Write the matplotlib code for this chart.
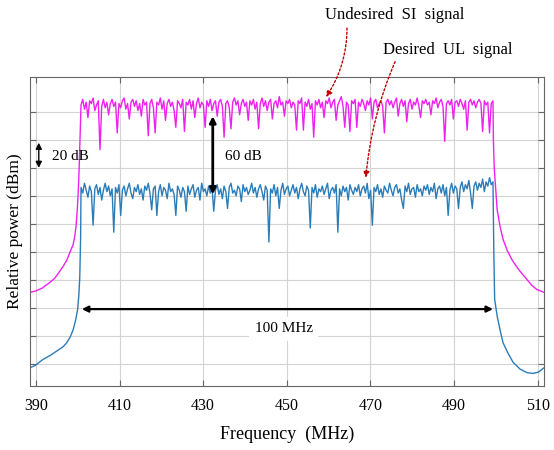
import numpy as np
import matplotlib
matplotlib.use("Agg")
import matplotlib.pyplot as plt

# in-band spectrum samples (dB)
band_f0, band_f1 = 400.8, 499.3

si_band = [
  5, 9, 2, 7, -4, 8, 6, 10, 1, 5, 8, -27, 4, 9, 3, 7, -2, 6, 9, 4,
  7, -15, 6, 3, 8, 10, 2, 6, -5, 7, 9, 4, 8, 1, 6, -3, 9, 5, 7, -17,
  6, 9, 3, -15, 7, 5, 10, 2, 8, -6, 6, 9, 4, 7, 1, -11, 8, 6, 3, 9,
  -14, 7, 5, 9, 2, 8, -4, 6, 10, 3, 7, 5, -11, 8, 4, 9, 1, 6, 8, -3,
  7, 9, 4, -18, 6, 8, 3, -12, 7, 10, 5, 8, -2, 6, 9, 4, 7, -6, 8, 5,
  9, 2, 7, -12, 6, 10, 4, 8, 1, 7, 9, -5, 6, 8, 3, 11, 5, 7, -3, 8,
  6, 9, 3, 7, 5, -13, 8, 6, 10, -13, 7, 4, 9, 2, 6, -18, 8, 5, 9, 3,
  7, -4, 8, 6, 10, 3, 7, 9, -6, 5, 8, 11, 4, -11, 7, 5, -14, 8, 6, 9,
  -11, 7, 4, 9, 6, 1, 8, 5, 10, -5, 7, 9, 3, 6, 8, 4, -15, 7, 9, 5,
  8, 3, 7, 10, -3, 6, 9, 4, 8, -7, 6, 9, 2, 7, 5, 10, 4, -4, 8, 6,
  9, 5, 7, -2, 8, 6, 10, 3, 7, 9, 4, -21, 6, 8, 5, 9, -5, 7, 8, 4,
  9, 6, 2, 8, -13, 7, 9, 5, 8, 3, 7, 9, 6, -14, 8, 5, 7, -15, 6, 8,
]

ul_band = [
  -54, -58, -51, -56, -61, -53, -57, -81, -55, -52, -59, -54, -63, -56, -51, -57, -53, -60, -55, -86,
  -54, -58, -52, -74, -56, -53, -60, -55, -51, -58, -62, -54, -57, -52, -59, -55, -63, -53, -56, -51,
  -58, -70, -55, -53, -74, -57, -52, -60, -54, -56, -62, -51, -57, -55, -59, -74, -53, -56, -61, -54,
  -57, -71, -53, -59, -55, -52, -61, -56, -54, -63, -51, -57, -55, -60, -53, -58, -54, -71, -56, -52,
  -59, -55, -62, -53, -57, -69, -54, -51, -58, -56, -60, -53, -55, -64, -52, -57, -54, -59, -56, -51,
  -58, -54, -61, -55, -52, -57, -63, -53, -56, -93, -55, -58, -52, -60, -54, -69, -56, -51, -59, -55,
  -53, -60, -56, -52, -58, -54, -62, -55, -51, -57, -60, -53, -56, -83, -54, -58, -52, -61, -55, -57,
  -53, -59, -55, -51, -62, -56, -54, -58, -52, -86, -55, -60, -53, -57, -54, -63, -52, -56, -59, -54,
  -57, -52, -60, -55, -53, -58, -51, -62, -56, -81, -54, -57, -52, -59, -55, -61, -53, -56, -58, -51,
  -56, -60, -54, -52, -58, -55, -63, -69, -53, -57, -51, -59, -55, -54, -61, -52, -57, -55, -60, -53,
  -56, -52, -59, -54, -57, -51, -62, -55, -53, -58, -52, -60, -54, -74, -56, -51, -58, -53, -55, -69,
  -54, -50, -57, -52, -55, -49, -58, -69, -53, -50, -56, -51, -54, -48, -57, -50, -53, -47, -52, -50,
]

# out-of-band skirts (MHz, dB)
si_left_f = [388.6, 390.0, 391.5, 393.3, 394.5, 395.7, 396.6, 397.4, 398.2, 398.9, 399.3, 399.6, 399.9, 400.1, 400.3, 400.5, 400.7]
si_left_db = [-129, -128, -126, -122, -119, -114, -110, -106, -100, -95, -89, -82, -70, -59, -45, -25, -5]
si_right_f = [499.4, 499.6, 500.3, 501.0, 501.7, 502.7, 503.9, 505.5, 507.2, 508.6, 509.8, 511.5]
si_right_db = [-20, -40, -70, -82, -91, -99, -106, -113, -119, -124, -127, -129]

ul_left_f = [388.6, 390.0, 391.7, 393.5, 395.0, 396.5, 397.4, 398.2, 398.9, 399.5, 400.0, 400.3, 400.5, 400.7]
ul_left_db = [-183, -181, -177, -174, -171, -168, -165, -161, -156, -149, -141, -130, -118, -90]
ul_right_f = [499.5, 499.7, 500.3, 501.0, 501.7, 502.8, 504.1, 505.8, 507.5, 508.9, 510.2, 511.5]
ul_right_db = [-100, -134, -146, -156, -165, -172, -179, -184, -186.5, -187, -186, -183]

xticks = [390, 410, 430, 450, 470, 490, 510]
yticks = [0, -20, -40, -60, -80, -100, -120, -140, -160, -180]

plt.rcParams['font.family'] = ['Liberation Serif', 'DejaVu Serif']

band_f = np.linspace(band_f0, band_f1, len(si_band))
si_f = np.concatenate([si_left_f, band_f, si_right_f])
si_db = np.concatenate([si_left_db, si_band, si_right_db])
ul_f = np.concatenate([ul_left_f, band_f, ul_right_f])
ul_db = np.concatenate([ul_left_db, ul_band, ul_right_db])

fig = plt.figure(figsize=(5.54, 4.5), dpi=100)
ax = fig.add_axes([30/554, 1-386/450, 514/554, 309/450])

ax.plot(si_f, si_db, color="#EE22EE", lw=1.0)
ax.plot(ul_f, ul_db, color="#2A7DB8", lw=1.0)

ax.set_xlim(388.6, 511.5)
ax.set_ylim(-196, 25)
ax.set_xticks(xticks)
ax.set_yticks(yticks)
ax.set_yticklabels([])
ax.grid(True, color="#D4D4D4", lw=0.8)
ax.set_axisbelow(True)
ax.tick_params(direction="in", top=True, right=True, length=4, color="#666666", labelsize=11.5, pad=9)
for sp in ax.spines.values():
  sp.set_color("#666666")
ax.set_xlabel("Frequency  (MHz)", fontsize=13, labelpad=8)
ax.set_ylabel("Relative power (dBm)", fontsize=12.5)
ax.yaxis.set_label_coords(-0.014, 0.5)

# black dimension arrows
blk = dict(arrowstyle="<|-|>", color="black", lw=1.6, mutation_scale=9, shrinkA=0, shrinkB=0)
ax.annotate("", xy=(390.7, -22), xytext=(390.7, -40), arrowprops=dict(blk, lw=1.0))
ax.text(393.8, -32, "20 dB", fontsize=11, va="center", ha="left")
ax.annotate("", xy=(432.3, -3), xytext=(432.3, -59), arrowprops=dict(blk, lw=2.0))
ax.text(435.2, -32, "60 dB", fontsize=11, va="center", ha="left")
ax.annotate("", xy=(401.0, -141), xytext=(499.3, -141), arrowprops=blk)
ax.text(449.3, -155, "100 MHz", fontsize=11, va="center", ha="center",
        bbox=dict(facecolor="white", edgecolor="none", pad=4))

# red callouts
red = dict(arrowstyle="-|>", color="#C00000", lw=1.0, ls=(0, (1.5, 1.5)), mutation_scale=9,
           shrinkA=0, shrinkB=0)
ax.annotate("", xy=(459.4, 10.7), xytext=(464.4, 60), annotation_clip=False,
            arrowprops=dict(red, connectionstyle="arc3,rad=-0.15"))
ax.annotate("", xy=(468.9, -47), xytext=(475.9, 36), annotation_clip=False,
            arrowprops=dict(red, connectionstyle="arc3,rad=0.08"))
fig.text(395/554, 1-15/450, "Undesired  SI  signal", fontsize=12, ha="center", va="center")
fig.text(448/554, 1-50/450, "Desired  UL  signal", fontsize=12, ha="center", va="center")

fig.savefig("out.png", dpi=100)
